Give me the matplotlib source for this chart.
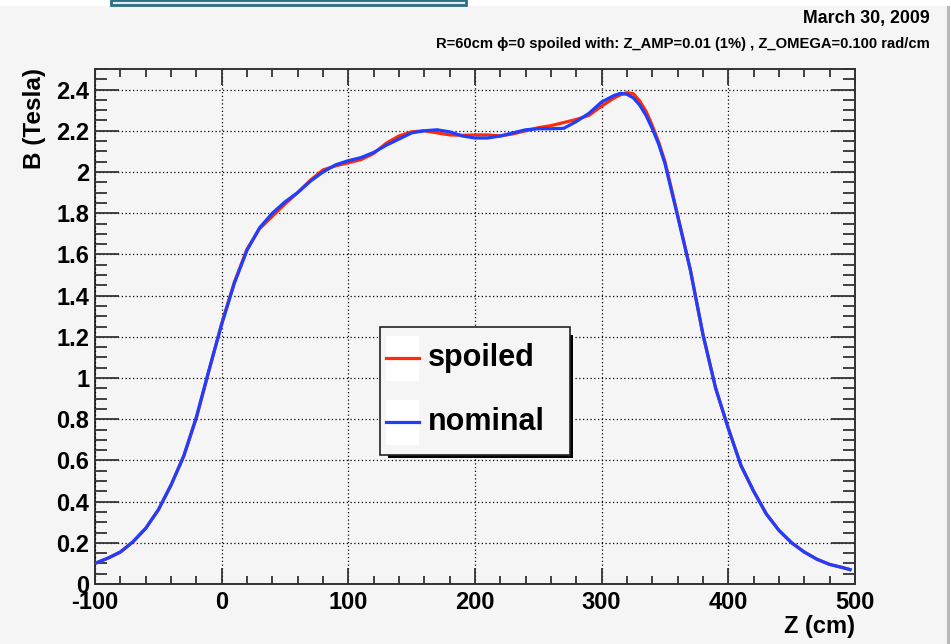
"""B field along Z at R=60cm: spoiled vs nominal, ROOT-style canvas."""

import matplotlib
matplotlib.use("Agg")
import matplotlib.pyplot as plt
import matplotlib.patches as patches
from matplotlib.ticker import MultipleLocator

plt.rcParams['font.family'] = ['Liberation Sans', 'DejaVu Sans']
plt.rcParams['font.weight'] = 'bold'
plt.rcParams['axes.unicode_minus'] = False

# Z positions (cm) and field values (Tesla)
z_cm = [-100, -90, -80, -70, -60, -50, -40, -30, -20, -10,
        0, 10, 20, 30, 40, 50, 60, 70, 80, 90,
        100, 110, 120, 130, 140, 150, 160, 170, 180, 190,
        200, 210, 220, 230, 240, 250, 260, 270, 280, 290,
        300, 310, 315, 320, 325, 330, 335, 340, 345, 350, 360, 370,
        380, 390, 400, 410, 420, 430, 440, 450, 460, 470,
        480, 490, 496]

b_nominal = [0.100, 0.125, 0.155, 0.205, 0.270, 0.360, 0.480, 0.620, 0.810, 1.040,
             1.260, 1.460, 1.620, 1.730, 1.800, 1.855, 1.900, 1.955, 2.000, 2.035,
             2.055, 2.070, 2.095, 2.130, 2.160, 2.190, 2.200, 2.205, 2.195, 2.175,
             2.165, 2.165, 2.175, 2.190, 2.205, 2.210, 2.210, 2.212, 2.245, 2.285,
             2.340, 2.372, 2.382, 2.377, 2.360, 2.325, 2.275, 2.210, 2.135, 2.040, 1.785, 1.525,
             1.210, 0.950, 0.755, 0.575, 0.450, 0.340, 0.260, 0.200, 0.155, 0.120,
             0.095, 0.080, 0.070]

b_spoiled = [0.100, 0.125, 0.155, 0.205, 0.270, 0.360, 0.480, 0.620, 0.805, 1.035,
             1.265, 1.465, 1.625, 1.725, 1.785, 1.845, 1.900, 1.960, 2.010, 2.030,
             2.045, 2.060, 2.090, 2.140, 2.175, 2.195, 2.200, 2.190, 2.180, 2.178,
             2.180, 2.180, 2.175, 2.185, 2.200, 2.215, 2.225, 2.240, 2.255, 2.275,
             2.320, 2.360, 2.375, 2.385, 2.380, 2.345, 2.295, 2.225, 2.145, 2.050, 1.790, 1.525,
             1.210, 0.950, 0.755, 0.575, 0.450, 0.340, 0.260, 0.200, 0.155, 0.120,
             0.095, 0.080, 0.070]

legend_labels = ["spoiled", "nominal"]
date_text = "March 30, 2009"
info_text = "R=60cm \u03d5=0 spoiled with: Z_AMP=0.01 (1%) , Z_OMEGA=0.100 rad/cm"

W, H = 951, 644
BG = "#f5f5f5"
RED = "#ff2a0a"
BLUE = "#1f3fff"

fig = plt.figure(figsize=(W / 100, H / 100), dpi=100)
fig.patch.set_facecolor("white")


def fx(px):
    return px / W


def fy(py):
    return 1 - py / H


# canvas background, title box stub and right border (drawn under the axes)
fig.patches.append(patches.Rectangle((0, 0), fx(947), fy(6), transform=fig.transFigure,
                                     facecolor=BG, edgecolor="none", zorder=-2))
fig.patches.append(patches.Rectangle((fx(947), 0), fx(3), fy(6), transform=fig.transFigure,
                                     facecolor="#b8b8b8", edgecolor="none", zorder=-2))
fig.patches.append(patches.Rectangle((fx(111), fy(5)), fx(355), 5 / H, transform=fig.transFigure,
                                     facecolor="#dcedf2", edgecolor="#2f6f82", linewidth=2, zorder=-1))

ax_l, ax_r, ax_t, ax_b = 95, 855, 69, 584
ax = fig.add_axes([fx(ax_l), fy(ax_b), fx(ax_r - ax_l), (ax_b - ax_t) / H])
ax.set_facecolor(BG)

ax.plot(z_cm, b_spoiled, color=RED, linewidth=2.3, zorder=3)
ax.plot(z_cm, b_nominal, color=BLUE, linewidth=2.3, zorder=4)

ax.set_xlim(-100, 500)
ax.set_ylim(0, 2.5)
ax.xaxis.set_major_locator(MultipleLocator(100))
ax.xaxis.set_minor_locator(MultipleLocator(20))
ax.yaxis.set_major_locator(MultipleLocator(0.2))
ax.yaxis.set_minor_locator(MultipleLocator(0.05))
ax.yaxis.set_major_formatter(lambda v, p: f"{v:.1f}".rstrip("0").rstrip(".") if v else "0")

ax.grid(True, which="major", color="black", linestyle=(0, (1, 2)), linewidth=0.9)
ax.set_axisbelow(False)

for sp in ax.spines.values():
    sp.set_color("#333333")
    sp.set_linewidth(1.4)

ax.tick_params(axis="both", which="both", direction="in", top=True, right=True,
               color="#333333", width=1.3, labelsize=17)
ax.tick_params(axis="x", which="major", length=11.5, pad=5)
ax.tick_params(axis="x", which="minor", length=5.8)
ax.tick_params(axis="y", which="major", length=17, pad=4)
ax.tick_params(axis="y", which="minor", length=8.6)
for lab in ax.get_xticklabels() + ax.get_yticklabels():
    lab.set_fontweight("bold")

# axis titles, ROOT puts them at the end of the axis
fig.text(fx(35), fy(68), "B (Tesla)", rotation=90, ha="center", va="top",
         fontsize=17.5, fontweight="bold")
fig.text(fx(855), fy(627), "Z (cm)", ha="right", va="center",
         fontsize=17, fontweight="bold")

# header lines
fig.text(fx(930), fy(18), date_text, ha="right", va="center", fontsize=12.8, fontweight="bold")
fig.text(fx(930), fy(44), info_text, ha="right", va="center", fontsize=10.6, fontweight="bold")

# legend box with ROOT drop shadow
tr = fig.transFigure
fig.patches.append(patches.Rectangle((fx(388), fy(458)), fx(185), (458 - 335) / H, transform=tr,
                                     facecolor="black", edgecolor="none", zorder=5))
fig.patches.append(patches.Rectangle((fx(380), fy(455)), fx(190), (455 - 327) / H, transform=tr,
                                     facecolor=BG, edgecolor="#222222", linewidth=1.2, zorder=6))
for (top, bot, ymid), color, label in zip([(336, 381, 358), (400, 445, 422)], [RED, BLUE], legend_labels):
    fig.patches.append(patches.Rectangle((fx(386), fy(bot)), fx(33), (bot - top) / H, transform=tr,
                                         facecolor="white", edgecolor="none", zorder=7))
    fig.lines.append(plt.Line2D([fx(386), fx(419)], [fy(ymid), fy(ymid)], transform=tr,
                                color=color, linewidth=2.3, zorder=8))
    fig.text(fx(428), fy(ymid), label, ha="left", va="center", fontsize=22,
             fontweight="bold", zorder=9)

fig.savefig("out.png", dpi=100, facecolor=fig.get_facecolor())
